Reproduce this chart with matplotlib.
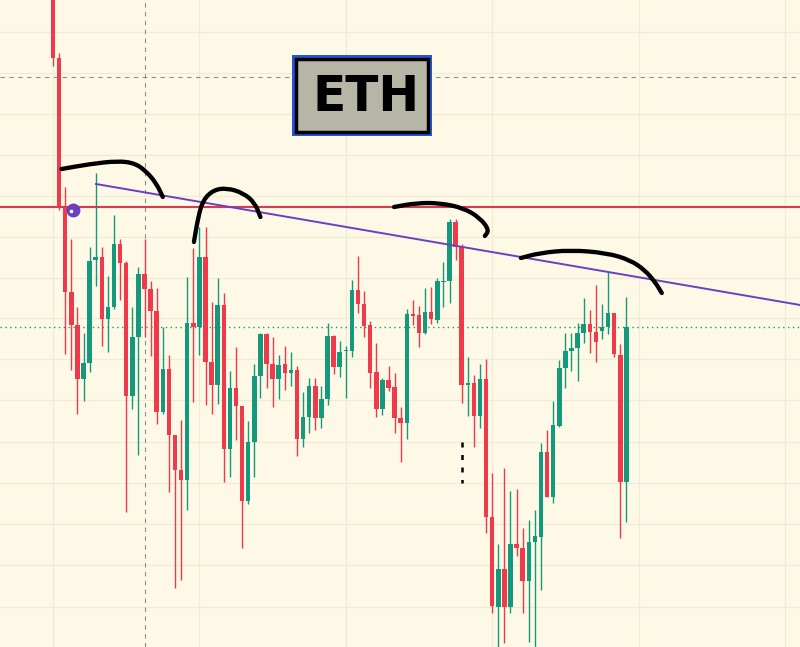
import numpy as np
import matplotlib.pyplot as plt
from matplotlib.patches import Rectangle, PathPatch
from matplotlib.path import Path

# candle values (open, high, low, close), arbitrary price units
opens = [687, 589, 441, 355, 322, 268, 284, 387, 390, 328, 340, 403, 384, 251, 310, 373, 358, 336, 235, 278,
         212, 177, 167, 324, 320, 390, 285, 262, 342, 198, 259, 241, 146, 205, 271, 313, 283, 268, 283, 274,
         277, 208, 230, 261, 229, 248, 311, 280, 296, 296, 357, 343, 322, 275, 238, 267, 260, 229, 224, 333,
         332, 314, 335, 327, 365, 366, 425, 400, 262, 264, 231, 268, 130, 40, 78, 40, 103, 99, 66, 105,
         110, 195, 150, 221, 279, 296, 299, 314, 323, 315, 316, 320, 334, 292, 165]
highs = [707, 594, 460, 408, 340, 314, 400, 474, 400, 371, 432, 408, 386, 340, 380, 408, 366, 359, 320, 292,
         212, 227, 370, 399, 420, 420, 345, 369, 354, 276, 300, 241, 226, 283, 314, 314, 310, 292, 301, 295,
         281, 255, 269, 269, 261, 324, 312, 306, 301, 367, 391, 356, 326, 304, 269, 281, 274, 240, 338, 347,
         341, 359, 360, 369, 385, 428, 428, 403, 290, 272, 283, 288, 174, 103, 179, 156, 158, 119, 127, 137,
         204, 217, 246, 287, 314, 314, 324, 349, 337, 362, 343, 375, 334, 303, 350]
lows = [581, 437, 293, 277, 233, 246, 275, 361, 301, 295, 338, 347, 135, 238, 192, 310, 291, 223, 233, 155,
        59, 67, 137, 245, 292, 242, 233, 243, 165, 170, 207, 99, 143, 170, 249, 259, 240, 248, 257, 261,
        191, 200, 214, 217, 219, 242, 273, 270, 249, 290, 334, 310, 259, 230, 232, 256, 214, 185, 208, 322,
        300, 313, 323, 324, 340, 344, 387, 244, 231, 200, 219, 114, 34, -8, 4, 34, 91, 34, 5, -8,
        57, 150, 144, 220, 259, 276, 266, 304, 294, 285, 308, 313, 290, 109, 125]
closes = [589, 441, 355, 322, 268, 284, 386, 390, 328, 340, 403, 384, 251, 310, 373, 358, 336, 235, 278, 212,
          177, 167, 324, 320, 390, 285, 262, 342, 198, 259, 241, 146, 205, 271, 313, 283, 268, 282, 274, 277,
          208, 230, 261, 229, 248, 311, 280, 295, 297, 357, 343, 321, 274, 238, 267, 259, 229, 224, 333, 331,
          314, 335, 328, 366, 366, 425, 400, 262, 264, 231, 268, 130, 41, 78, 40, 103, 99, 66, 105, 111,
          195, 150, 222, 279, 296, 299, 314, 323, 315, 305, 320, 334, 293, 165, 320]

# drawn levels
resistance = 440
dotted_level = 320
cross_x, cross_y = 15.1, 570
trend_x = [7.05, 122.5]
trend_y = [463, 342]
grid_prices = [615, 574, 533, 492, 451, 410, 369, 329, 288, 247, 205, 164, 123, 82, 40]
grid_index = [0, 24, 48, 72, 96, 120]

# hand drawn ink strokes (candle index, price)
arc1_x = [1.4, 6.1, 10.5, 13.4, 15.4, 17.0, 18.0]
arc1_y = [478, 483, 486, 484, 475, 463, 450]
arc2_x = [23.1, 23.8, 24.6, 26.3, 28.5, 31.2, 33.1, 34.0]
arc2_y = [405, 430, 447, 457, 459, 454, 444, 430]
arc3_x = [55.9, 59.6, 63.4, 67.3, 70.0, 71.5, 70.8]
arc3_y = [440, 444, 444, 439, 429, 417, 411]
arc4_x = [76.7, 79.8, 84.8, 90.8, 94.6, 97.0, 98.7, 99.8]
arc4_y = [389, 394, 397, 394, 387, 377, 365, 354]

up_col = '#14997d'
down_col = '#ef3a4c'
bg = '#fdf9e6'


def ink(ax, xs, ys):
    # smooth stroke through the midpoints, using the points as bezier controls
    pts = list(zip(xs, ys))
    verts = [pts[0], ((pts[0][0] + pts[1][0]) / 2, (pts[0][1] + pts[1][1]) / 2)]
    codes = [Path.MOVETO, Path.LINETO]
    for i in range(1, len(pts) - 1):
        mid = ((pts[i][0] + pts[i + 1][0]) / 2, (pts[i][1] + pts[i + 1][1]) / 2)
        verts += [pts[i], mid]
        codes += [Path.CURVE3, Path.CURVE3]
    verts.append(pts[-1])
    codes.append(Path.LINETO)
    ax.add_patch(PathPatch(Path(verts, codes), fill=False, edgecolor='black', lw=3.1,
                           capstyle='round', joinstyle='round', zorder=6))


fig = plt.figure(figsize=(8, 6.47), dpi=100)
fig.patch.set_facecolor(bg)
ax = fig.add_axes([0, 0, 1, 1])
ax.set_facecolor(bg)

for g in grid_prices:
    ax.axhline(g, color='#efebd6', lw=0.9, zorder=0)
for g in grid_index:
    ax.axvline(g, color='#efebd6', lw=0.9, zorder=0)

ax.axhline(cross_y, color='#8c8c8c', lw=0.8, ls=(0, (4, 4)), zorder=1)
ax.axvline(cross_x, color='#8c8c8c', lw=0.8, ls=(0, (4, 4)), zorder=1)
ax.axhline(dotted_level, color=up_col, lw=1, ls=(0, (1, 2.5)), zorder=1)

o = np.array(opens); h = np.array(highs); l = np.array(lows); c = np.array(closes)
idx = np.arange(len(o))
cols = np.where(c >= o, up_col, down_col)
ax.vlines(idx, l, h, colors=cols, lw=1, zorder=2)
body = np.maximum(np.abs(c - o), 1.5)
ax.bar(idx, body, bottom=np.minimum(o, c), width=0.74, color=cols, zorder=3)

ax.axhline(resistance, color='#d63c4c', lw=1.5, zorder=4)
ax.plot(trend_x, trend_y, color='#6b3fc4', lw=1.4, zorder=4)

for xs, ys in [(arc1_x, arc1_y), (arc2_x, arc2_y), (arc3_x, arc3_y), (arc4_x, arc4_y)]:
    ink(ax, xs, ys)

ax.plot([67.0, 67.0], [205, 164], color='black', lw=1.8, ls=(0, (2, 3)), zorder=5)

# alert icon
ax.plot(3.3, 437, 'o', ms=9, color='#6b3fc4', zorder=7)
ax.plot(3.0, 436, 's', ms=2, color='white', zorder=8)

ax.set_xlim(-8.69, 122.46)
ax.set_ylim(0, 647)
ax.axis('off')

# ETH label box
fig.patches.append(Rectangle((292 / 800, 1 - 136 / 647), 140 / 800, 81 / 647, transform=fig.transFigure,
                             facecolor='#2456d6', edgecolor='none', zorder=10))
fig.patches.append(Rectangle((296 / 800, 1 - 132 / 647), 132 / 800, 73 / 647, transform=fig.transFigure,
                             facecolor='#b7b5a6', edgecolor='black', linewidth=2.5, zorder=11))
fig.text(366 / 800, 1 - 97 / 647, 'ETH', ha='center', va='center', fontsize=35, fontweight='bold',
         color='black', zorder=12)

plt.savefig('out.png', dpi=100, facecolor=bg)
